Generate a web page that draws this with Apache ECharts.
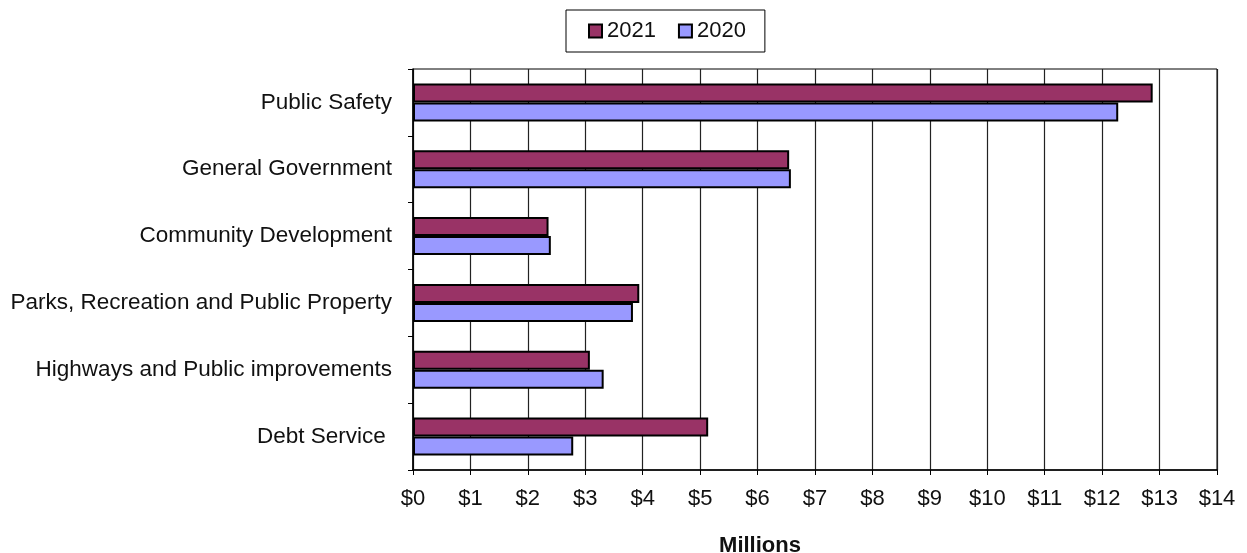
<!DOCTYPE html>
<html>
<head>
<meta charset="utf-8">
<script src="https://cdn.jsdelivr.net/npm/echarts@6/dist/echarts.min.js"></script>
<style>
  html, body { margin: 0; padding: 0; background: #fff; }
  #chart { width: 1247px; height: 553px; }
</style>
</head>
<body>
<div id="chart"></div>
<script>
// Expenditures by function, in millions of dollars
const categories = [
  'Public Safety',
  'General Government',
  'Community Development',
  'Parks, Recreation and Public Property',
  'Highways and Public improvements',
  'Debt Service '
];
const values2021 = [12.88, 6.55, 2.36, 3.94, 3.08, 5.14];
const values2020 = [12.28, 6.58, 2.40, 3.83, 3.32, 2.79];
const xMin = 0, xMax = 14, xStep = 1;

const FONT = '"Liberation Sans", Arial, sans-serif';
const chart = echarts.init(document.getElementById('chart'), null, { renderer: 'canvas' });

chart.setOption({
  backgroundColor: '#ffffff',
  animation: false,
  textStyle: { fontFamily: FONT },
  title: {
    text: 'Millions',
    left: 755,
    top: 530,
    textAlign: 'center',
    textStyle: { fontFamily: FONT, fontSize: 22, fontWeight: 'bold', color: '#111' }
  },
  legend: {
    data: ['2021', '2020'],
    left: 566,
    top: 10,
    padding: [10, 19, 10, 22],
    itemGap: 22,
    itemWidth: 13,
    itemHeight: 13,
    icon: 'rect',
    borderColor: '#000',
    borderWidth: 1,
    textStyle: { fontFamily: FONT, fontSize: 22, color: '#111' }
  },
  grid: {
    left: 413,
    right: 30,
    top: 69,
    bottom: 83,
    show: true,
    borderColor: '#000',
    borderWidth: 1,
    backgroundColor: 'transparent'
  },
  xAxis: {
    type: 'value',
    min: xMin,
    max: xMax,
    interval: xStep,
    axisLine: { show: true, lineStyle: { color: '#000', width: 1.5 } },
    axisTick: { show: true, length: 5, lineStyle: { color: '#000' } },
    splitLine: { show: true, lineStyle: { color: '#222', width: 1.2 } },
    axisLabel: {
      margin: 18,
      fontFamily: FONT,
      fontSize: 22,
      color: '#111',
      formatter: v => '$' + v
    }
  },
  yAxis: {
    type: 'category',
    data: categories,
    inverse: true,
    axisLine: { show: true, lineStyle: { color: '#000', width: 1.5 } },
    axisTick: { show: true, length: 5, lineStyle: { color: '#000' } },
    axisLabel: {
      margin: 21,
      fontFamily: FONT,
      fontSize: 22.5,
      color: '#111'
    }
  },
  series: [
    {
      name: '2021',
      type: 'bar',
      data: values2021,
      barWidth: 19,
      barGap: '0%',
      itemStyle: { color: '#993366', borderColor: '#000', borderWidth: 2 }
    },
    {
      name: '2020',
      type: 'bar',
      data: values2020,
      barWidth: 19,
      barGap: '0%',
      itemStyle: { color: '#9999FF', borderColor: '#000', borderWidth: 2 }
    }
  ]
});
</script>
</body>
</html>
